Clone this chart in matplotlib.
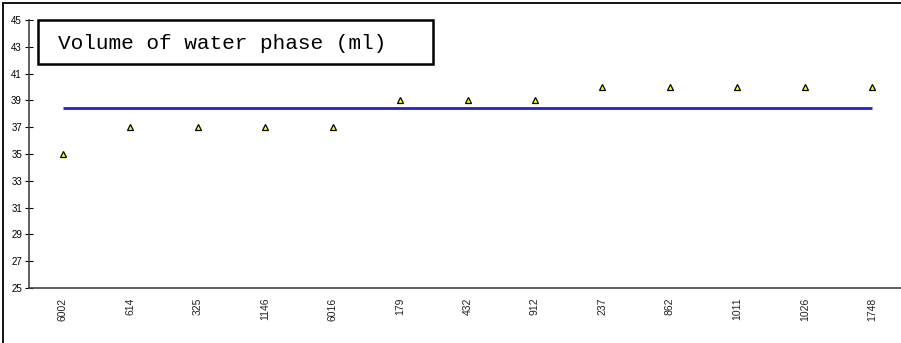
import matplotlib.pyplot as plt
from matplotlib.patches import Rectangle

samples = ["6002", "614", "325", "1146", "6016", "179", "432", "912",
           "237", "862", "1011", "1026", "1748"]
volumes = [35, 37, 37, 37, 37, 39, 39, 39, 40, 40, 40, 40, 40]
mean_volume = 38.46

W, H = 901, 343
fig = plt.figure(figsize=(W / 100, H / 100), dpi=100)
ax = fig.add_axes([29 / W, 55 / H, 877 / W, 268 / H])

x = list(range(len(samples)))
ax.plot([x[0], x[-1]], [mean_volume, mean_volume], color="#2222cc", lw=2.0,
        solid_capstyle="butt", zorder=2)
ax.plot(x, volumes, ls="none", marker="^", ms=4.5, mfc="#ffff00",
        mec="black", mew=0.9, zorder=3)

ax.set_xlim(-0.5, len(samples) - 0.5)
ax.set_ylim(25, 45)
ax.set_yticks(range(25, 46, 2))
ax.set_xticks(x)
ax.set_xticklabels(samples, rotation=90, fontsize=7.5, family="Liberation Sans",
                   color="#222222")
ax.tick_params(axis="x", length=0, pad=7)
ax.tick_params(axis="y", direction="inout", length=6, width=0.8,
               labelsize=7, pad=2)
for lab in ax.get_yticklabels():
    lab.set_family("Liberation Sans")

for s in ["top", "right"]:
    ax.spines[s].set_visible(False)
for s in ["left", "bottom"]:
    ax.spines[s].set_color("#444444")
    ax.spines[s].set_linewidth(1.2)

# title box
ax.text(0.033, 0.912, "Volume of water phase (ml)", transform=ax.transAxes,
        family="Liberation Mono", fontsize=15.2, va="center", ha="left")
fig.add_artist(Rectangle((38 / W, 1 - 64 / H), 395 / W, 44 / H,
                         transform=fig.transFigure, fill=False,
                         ec="black", lw=1.8))

# outer border
fig.add_artist(Rectangle((3 / W, -0.2), 1.2, 1.2 - 3 / H,
                         transform=fig.transFigure, fill=False,
                         ec="black", lw=1.3))

fig.savefig("out.png", dpi=100)
